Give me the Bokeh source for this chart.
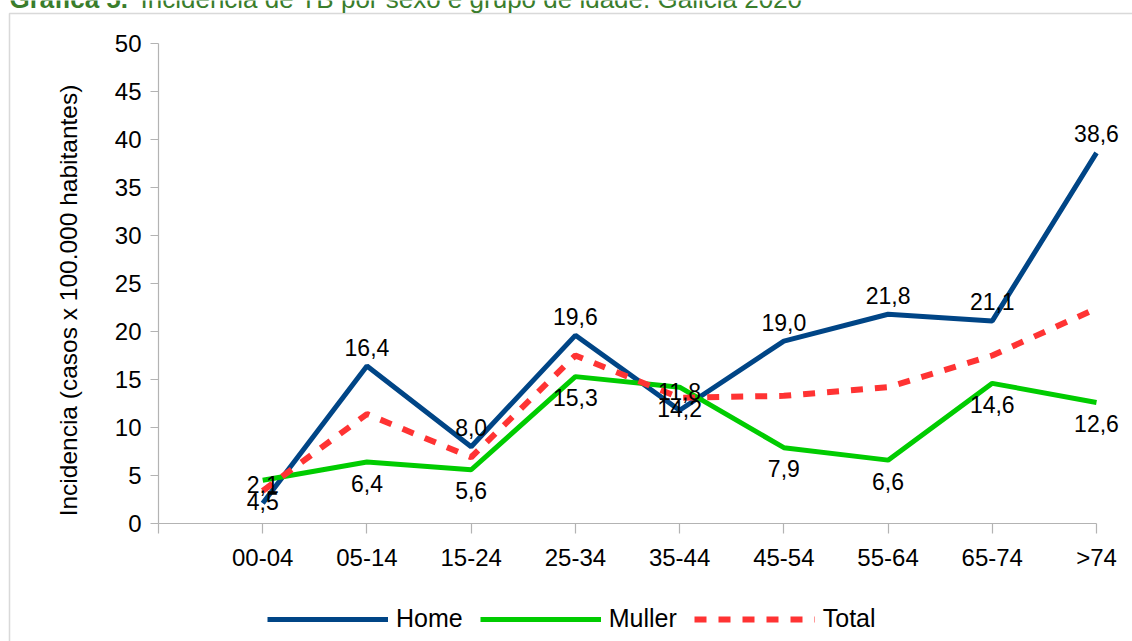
import math
from bokeh.plotting import figure
from bokeh.models import Range1d, FixedTicker, Label, BoxAnnotation, Legend, LegendItem, ColumnDataSource
from bokeh.embed import file_html
from bokeh.resources import INLINE
from bokeh.core.properties import value

# ---- data ----
categories = ["00-04", "05-14", "15-24", "25-34", "35-44", "45-54", "55-64", "65-74", ">74"]
home = [2.1, 16.4, 8.0, 19.6, 11.8, 19.0, 21.8, 21.1, 38.6]
muller = [4.5, 6.4, 5.6, 15.3, 14.2, 7.9, 6.6, 14.6, 12.6]
total = [3.4, 11.4, 6.9, 17.5, 13.1, 13.3, 14.2, 17.5, 22.4]
y_ticks = [0, 5, 10, 15, 20, 25, 30, 35, 40, 45, 50]
title_bold = "Gráfica 5."
title_rest = "Incidencia de TB por sexo e grupo de idade. Galicia 2020"
y_label = "Incidencia (casos x 100.000 habitantes)"

FONT = "Liberation Sans"
W, H = 1132, 641

# plot-area placement in canvas pixels (layout only)
PX_L, PX_R, PX_T, PX_B = 158, 1096, 43, 523
NX = len(categories)
YMAX = 50
SX = (PX_R - PX_L) / NX
SY = (PX_B - PX_T) / YMAX


def x_of(px):
    return (px - PX_L) / SX


def y_of(py):
    return (PX_B - py) / SY


xs = list(range(1, NX + 1))


def fmt(v):
    return ("%.1f" % v).replace(".", ",")


src = ColumnDataSource(dict(
    x=xs, home=home, muller=muller, total=total,
    home_lbl=[fmt(v) for v in home], muller_lbl=[fmt(v) for v in muller],
))

p = figure(width=W, height=H, output_backend="svg", toolbar_location=None,
           x_range=Range1d(x_of(0), x_of(W)), y_range=Range1d(y_of(H), y_of(0)),
           min_border=0, outline_line_color=None,
           background_fill_color="white", border_fill_color="white")

p.xgrid.visible = False
p.ygrid.visible = False

AX = "#b3b3b3"
for ax in (p.xaxis, p.yaxis):
    ax.fixed_location = 0
    ax.axis_line_color = AX
    ax.axis_line_width = 1.2
    ax.major_tick_line_color = AX
    ax.major_tick_line_width = 1.2
    ax.minor_tick_line_color = None
    ax.major_tick_in = 0
    ax.major_label_text_font = FONT
    ax.major_label_text_color = "black"
    ax.major_label_text_font_size = "24px"

p.xaxis.bounds = (0, NX)
p.xaxis.ticker = FixedTicker(ticks=list(range(0, NX + 1)))
overrides = {0: ""}
for i, c in enumerate(categories):
    overrides[i + 1] = c
p.xaxis.major_label_overrides = overrides
p.xaxis.major_tick_out = 10
p.xaxis.major_label_standoff = 10

p.yaxis.bounds = (0, YMAX)
p.yaxis.ticker = FixedTicker(ticks=y_ticks)
p.yaxis.major_tick_out = 8
p.yaxis.major_label_standoff = 9

# outer border of the chart
p.add_layout(BoxAnnotation(left=x_of(9), right=x_of(W + 60), top=y_of(13), bottom=y_of(H + 60),
                           fill_alpha=0, line_color="#808080", line_width=1.5, level="underlay"))

r_home = p.line("x", "home", source=src, line_color="#004586", line_width=5)
r_muller = p.line("x", "muller", source=src, line_color="#00cc00", line_width=5)
r_total = p.line("x", "total", source=src, line_color="#ff3333", line_width=6, line_dash="12 12")

p.text("x", "home", text="home_lbl", source=src, text_align="center", text_baseline="middle",
       y_offset=-19, text_font=value(FONT), text_font_size="23px", text_color="black")
p.text("x", "muller", text="muller_lbl", source=src, text_align="center", text_baseline="middle",
       y_offset=21, text_font=value(FONT), text_font_size="23px", text_color="black")

legend = Legend(items=[LegendItem(label="Home", renderers=[r_home]),
                       LegendItem(label="Muller", renderers=[r_muller]),
                       LegendItem(label="Total", renderers=[r_total])],
                orientation="horizontal", location=(267, 8),
                glyph_width=121, glyph_height=26, label_height=26, label_standoff=8, spacing=17,
                padding=0, margin=0, border_line_color=None, background_fill_alpha=0,
                label_text_font=FONT, label_text_font_size="25px", label_text_color="black")
p.add_layout(legend, "center")

# y-axis title
p.add_layout(Label(x=68, y=H - 300, x_units="screen", y_units="screen", text=y_label,
                   angle=math.pi / 2, text_align="center", text_baseline="middle",
                   text_font=FONT, text_font_size="24.5px", text_color="black"))

# chart title (top partly cut off, as in the original)
p.add_layout(Label(x=9, y=H + 2, x_units="screen", y_units="screen", text=title_bold,
                   text_font=FONT, text_font_style="bold", text_font_size="26px",
                   text_color="#3a7d2c", text_baseline="alphabetic"))
p.add_layout(Label(x=140, y=H + 2, x_units="screen", y_units="screen", text=title_rest,
                   text_font=FONT, text_font_size="26px",
                   text_color="#3a7d2c", text_baseline="alphabetic"))

open("out.html", "w").write(file_html(p, INLINE))
